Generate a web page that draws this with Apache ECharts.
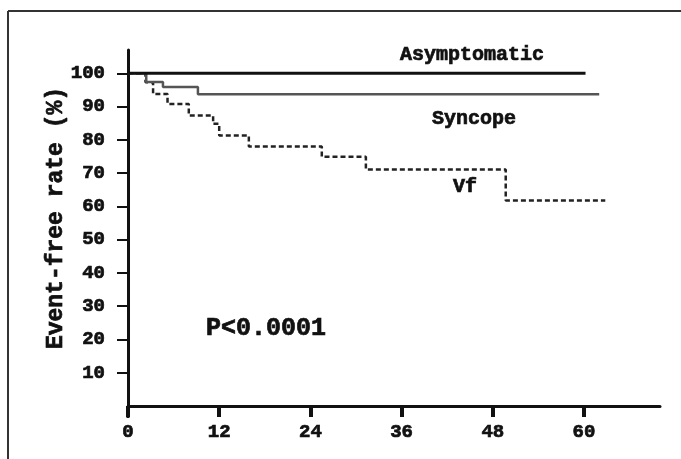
<!DOCTYPE html>
<html>
<head>
<meta charset="utf-8">
<script src="https://cdn.jsdelivr.net/npm/echarts@6/dist/echarts.min.js"></script>
<style>
html,body{margin:0;padding:0;background:#fff;}
#chart{width:681px;height:459px;}
</style>
</head>
<body>
<div id="chart"></div>
<script>
// Data (months, event-free rate %)
const xTicks = [0, 12, 24, 36, 48, 60];
const yTicks = [10, 20, 30, 40, 50, 60, 70, 80, 90, 100];
const asymptomatic = [[0, 100], [60.2, 100]];
const syncope = [[0, 100], [2.4, 97.4], [4.6, 95.9], [9.2, 93.7], [62, 93.7]];
const vf = [[0, 100], [2.3, 97.3], [3.3, 93.8], [5.2, 90.8], [8.0, 87.3], [11.2, 84.8], [12.0, 81.3],
            [15.9, 78.0], [25.5, 74.9], [31.3, 71.1], [49.7, 61.8], [62.8, 61.8]];
const seriesNames = ['Asymptomatic', 'Syncope', 'Vf'];
const pText = 'P<0.0001';
const yName = 'Event-free rate (%)';

const font = '"Liberation Mono", "DejaVu Sans Mono", monospace';
const ink = '#111';
const chart = echarts.init(document.getElementById('chart'));
const txt = (x, y, text, size, rot) => ({
  type: 'text', x: x, y: y, rotation: rot || 0,
  style: { text: text, font: 'bold ' + size + 'px ' + font, fill: ink, stroke: ink, lineWidth: 0.7,
           align: 'center', verticalAlign: 'middle' }
});
chart.setOption({
  animation: false,
  backgroundColor: '#fff',
  grid: { left: 128, top: 50, right: 21, bottom: 53 },
  xAxis: {
    type: 'value', min: 0, max: 70,
    axisLine: { lineStyle: { color: ink, width: 3 } },
    axisTick: { customValues: xTicks, length: 11, lineStyle: { color: ink, width: 4 } },
    axisLabel: { customValues: xTicks, margin: 17, color: ink, fontFamily: font, fontWeight: 'bold', fontSize: 19,
                 textBorderColor: ink, textBorderWidth: 0.7 },
    splitLine: { show: false }
  },
  yAxis: {
    type: 'value', min: 0, max: 107,
    axisLine: { show: true, lineStyle: { color: ink, width: 3 } },
    axisTick: { show: true, customValues: yTicks, length: 11, lineStyle: { color: ink, width: 2 } },
    axisLabel: { customValues: yTicks, margin: 23, color: ink, fontFamily: font, fontWeight: 'bold', fontSize: 19,
                 textBorderColor: ink, textBorderWidth: 0.7 },
    splitLine: { show: false }
  },
  graphic: [
    { type: 'line', shape: { x1: 8, y1: 11, x2: 681, y2: 11 }, style: { stroke: '#333', lineWidth: 2 } },
    { type: 'line', shape: { x1: 8, y1: 11, x2: 8, y2: 459 }, style: { stroke: '#333', lineWidth: 2 } },
    { type: 'line', shape: { x1: 128, y1: 406, x2: 128, y2: 418 }, style: { stroke: ink, lineWidth: 3 } },
    txt(56, 218, yName, 23, Math.PI / 2),
    txt(472, 55, seriesNames[0], 20),
    txt(474, 119, seriesNames[1], 20),
    txt(465, 187, seriesNames[2], 20),
    txt(266, 329, pText, 25)
  ],
  series: [
    { name: seriesNames[0], type: 'line', step: 'end', data: asymptomatic, showSymbol: false,
      lineStyle: { color: ink, width: 3 }, z: 5 },
    { name: seriesNames[1], type: 'line', step: 'end', data: syncope, showSymbol: false,
      lineStyle: { color: '#555', width: 2.5 }, z: 4 },
    { name: seriesNames[2], type: 'line', step: 'end', data: vf, showSymbol: false,
      lineStyle: { color: '#222', width: 2.5, type: [5, 3] }, z: 3 }
  ]
});
</script>
</body>
</html>
